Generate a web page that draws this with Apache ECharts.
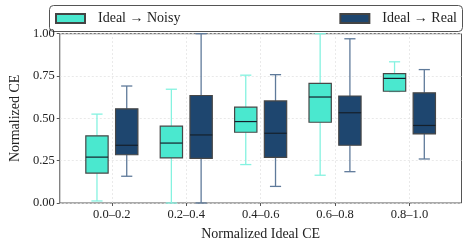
<!DOCTYPE html>
<html>
<head>
<meta charset="utf-8">
<script src="https://cdn.jsdelivr.net/npm/echarts@6/dist/echarts.min.js"></script>
<style>html,body{margin:0;padding:0;background:#fff}#c{width:468px;height:246px}</style>
</head>
<body>
<div id="c"></div>
<script>
// Data
const categories = ['0.0–0.2', '0.2–0.4', '0.4–0.6', '0.6–0.8', '0.8–1.0'];
const seriesNames = ['Ideal → Noisy', 'Ideal → Real'];
// [min, Q1, median, Q3, max]
const noisyBoxes = [
  [0.012, 0.177, 0.271, 0.397, 0.525],
  [0.000, 0.266, 0.354, 0.454, 0.672],
  [0.227, 0.418, 0.481, 0.566, 0.755],
  [0.164, 0.477, 0.626, 0.707, 1.000],
  [0.658, 0.660, 0.736, 0.764, 0.834]
];
const realBoxes = [
  [0.158, 0.285, 0.341, 0.556, 0.691],
  [0.000, 0.264, 0.402, 0.635, 1.000],
  [0.098, 0.270, 0.412, 0.603, 0.758],
  [0.185, 0.341, 0.533, 0.632, 0.970],
  [0.260, 0.408, 0.458, 0.651, 0.788]
];
const yTicks = [0, 0.25, 0.5, 0.75, 1.0];

const FONT = 'Liberation Serif';

function toData(boxes) {
  return boxes.map((b, i) => [i].concat(b));
}

function makeRender(offsetFrac, fill, whiskerColor) {
  return function (params, api) {
    const x = api.value(0);
    const mn = api.value(1), q1 = api.value(2), md = api.value(3), q3 = api.value(4), mx = api.value(5);
    const band = api.size([1, 0])[0];
    const cx = api.coord([x, 0])[0] + offsetFrac * band;
    const w = 0.30 * band;
    const cap = w / 2;
    const Y = v => api.coord([x, v])[1];
    const children = [];
    const wStyle = { stroke: whiskerColor, lineWidth: 1.3 };
    children.push({ type: 'line', shape: { x1: cx, y1: Y(q3), x2: cx, y2: Y(mx) }, style: wStyle });
    children.push({ type: 'line', shape: { x1: cx, y1: Y(q1), x2: cx, y2: Y(mn) }, style: wStyle });
    children.push({ type: 'line', shape: { x1: cx - cap / 2, y1: Y(mx), x2: cx + cap / 2, y2: Y(mx) }, style: wStyle });
    children.push({ type: 'line', shape: { x1: cx - cap / 2, y1: Y(mn), x2: cx + cap / 2, y2: Y(mn) }, style: wStyle });
    children.push({ type: 'rect', shape: { x: cx - w / 2, y: Y(q3), width: w, height: Y(q1) - Y(q3) },
      style: { fill: fill, stroke: '#474747', lineWidth: 1.2 } });
    children.push({ type: 'line', shape: { x1: cx - w / 2, y1: Y(md), x2: cx + w / 2, y2: Y(md) },
      style: { stroke: '#15202b', lineWidth: 1.2 } });
    return { type: 'group', children: children };
  };
}

const chart = echarts.init(document.getElementById('c'), null, { renderer: 'canvas' });
const tickIdx = categories.map((c, i) => i);
const gridStyle = { color: '#e4e4e4', type: [2, 2], width: 0.8 };

chart.setOption({
  animation: false,
  textStyle: { fontFamily: FONT },
  graphic: [{
    type: 'rect', z: -1,
    shape: { x: 49.5, y: 5.5, width: 413, height: 26, r: 4 },
    style: { fill: '#fff', stroke: '#555', lineWidth: 1 }
  }],
  legend: [{
    data: [seriesNames[0]], left: 55, top: 11.5, padding: 0, icon: 'rect',
    itemWidth: 29, itemHeight: 9,
    textStyle: { fontFamily: FONT, fontSize: 14, color: '#222', padding: [0, 0, 0, 8] }
  }, {
    data: [seriesNames[1]], right: 11, top: 11.5, padding: 0, icon: 'rect',
    itemWidth: 29, itemHeight: 9,
    textStyle: { fontFamily: FONT, fontSize: 14, color: '#222', padding: [0, 0, 0, 8] }
  }],
  grid: { left: 49.5, right: 6.5, top: 33.7, bottom: 39.3, show: true, borderColor: '#555', borderWidth: 1 },
  xAxis: {
    type: 'value', min: -0.7, max: 4.7,
    name: 'Normalized Ideal CE', nameLocation: 'middle', nameGap: 24,
    nameTextStyle: { fontFamily: FONT, fontSize: 14, color: '#222' },
    axisLine: { show: false, onZero: false },
    axisTick: { show: true, customValues: tickIdx, length: 3, lineStyle: { color: '#555' } },
    axisLabel: { customValues: tickIdx, formatter: v => categories[Math.round(v)] || '',
      fontFamily: FONT, fontSize: 12.5, color: '#222', margin: 5 },
    splitLine: { show: false }
  },
  yAxis: {
    type: 'value', min: 0, max: 1, interval: 0.25,
    name: 'Normalized CE', nameLocation: 'middle', nameGap: 33,
    nameTextStyle: { fontFamily: FONT, fontSize: 14, color: '#222' },
    axisLine: { show: false, onZero: false },
    axisTick: { show: true, length: 3, lineStyle: { color: '#555' } },
    axisLabel: { formatter: v => v.toFixed(2), fontFamily: FONT, fontSize: 12.5, color: '#222', margin: 5 },
    splitLine: { show: true, lineStyle: gridStyle }
  },
  series: [{
    type: 'line', data: [], z: 1, silent: true,
    markLine: {
      silent: true, symbol: 'none', animation: false,
      label: { show: false },
      lineStyle: gridStyle,
      emphasis: { disabled: true },
      data: tickIdx.map(i => ({ xAxis: i }))
    }
  }, {
    name: seriesNames[0], type: 'custom', z: 2, renderItem: makeRender(-0.2, '#4ae8cf', '#85f2e0'),
    itemStyle: { color: '#4ae8cf', borderColor: '#444', borderWidth: 0.8 },
    encode: { x: 0, y: [1, 2, 3, 4, 5] },
    data: toData(noisyBoxes)
  }, {
    name: seriesNames[1], type: 'custom', z: 2, renderItem: makeRender(0.2, '#1e466f', '#5f7a9a'),
    itemStyle: { color: '#1e466f', borderColor: '#444', borderWidth: 0.8 },
    encode: { x: 0, y: [1, 2, 3, 4, 5] },
    data: toData(realBoxes)
  }]
});
</script>
</body>
</html>
